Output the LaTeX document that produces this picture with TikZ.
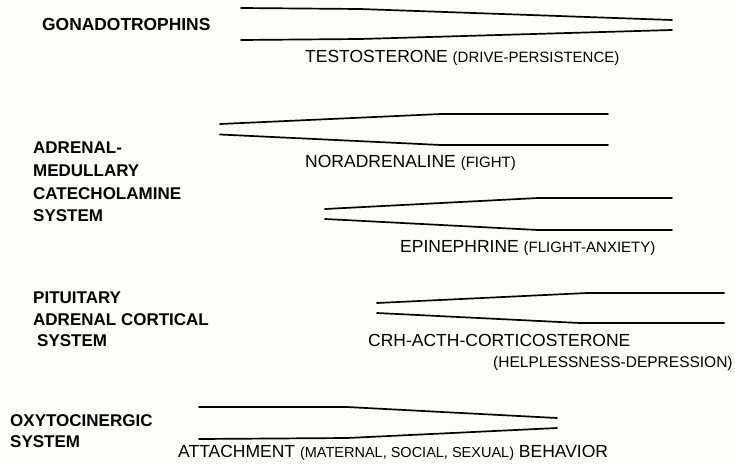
\documentclass[tikz,border=0pt]{standalone}
\usepackage{fontspec}
\setmainfont{Liberation Sans}
\definecolor{bgcol}{RGB}{253,253,249}
\tikzset{
  wedge/.style={line width=1.7pt, line join=round, line cap=round, black},
  lab/.style={anchor=base west, inner sep=0pt, font=\fontsize{17}{19}\selectfont\bfseries},
  txt/.style={anchor=base west, inner sep=0pt, font=\fontsize{17.5}{20}\selectfont},
}
\newcommand{\sm}[1]{{\fontsize{15}{17}\selectfont #1}}
\begin{document}
\begin{tikzpicture}[x=1pt,y=-1pt]
\fill[bgcol] (0,0) rectangle (735,463);
\useasboundingbox (0,0) rectangle (735,463);

% left labels
\node[lab, font=\fontsize{17.4}{19}\selectfont\bfseries] (gon) at (42,30) {GONADOTROPHINS};
\node[lab] (adr1) at (33,153) {ADRENAL-};
\node[lab] (adr2) at (33,176) {MEDULLARY};
\node[lab] (adr3) at (33,199) {CATECHOLAMINE};
\node[lab] (adr4) at (33,221) {SYSTEM};
\node[lab] (pit1) at (33,303) {PITUITARY};
\node[lab] (pit2) at (33,325) {ADRENAL CORTICAL};
\node[lab] (pit3) at (37,346) {SYSTEM};
\node[lab] (oxy1) at (10,426) {OXYTOCINERGIC};
\node[lab] (oxy2) at (10,447) {SYSTEM};

% right labels
\node[txt] (tes) at (305,62) {TESTOSTERONE \sm{(DRIVE-PERSISTENCE)}};
\node[txt] (nor) at (305,167) {NORADRENALINE \sm{(FIGHT)}};
\node[txt] (epi) at (400,252) {EPINEPHRINE \sm{(FLIGHT-ANXIETY)}};
\node[txt] (crh) at (368,346) {CRH-ACTH-CORTICOSTERONE};
\node[txt, font=\fontsize{15.5}{17}\selectfont] (hel) at (493,367) {(HELPLESSNESS-DEPRESSION)};
\node[txt] (att) at (178,457) {ATTACHMENT {\fontsize{14.5}{17}\selectfont (MATERNAL, SOCIAL, SEXUAL)} BEHAVIOR};

% wedge 1 (testosterone)
\coordinate (t1a) at (241,8);   \coordinate (t1b) at (360,9);   \coordinate (t1c) at (672,20);
\coordinate (b1a) at (241,40);  \coordinate (b1b) at (360,39);  \coordinate (b1c) at (672,30);
\draw[wedge] (t1a) -- (t1b) -- (t1c);
\draw[wedge] (b1a) -- (b1b) -- (b1c);

% wedge 2 (noradrenaline)
\coordinate (t2a) at (220,124); \coordinate (t2b) at (441,114); \coordinate (t2c) at (608,114);
\coordinate (b2a) at (220,134.5); \coordinate (b2b) at (441,145); \coordinate (b2c) at (608,145);
\draw[wedge] (t2a) -- (t2b) -- (t2c);
\draw[wedge] (b2a) -- (b2b) -- (b2c);

% wedge 3 (epinephrine)
\coordinate (t3a) at (325,209); \coordinate (t3b) at (538,198); \coordinate (t3c) at (672,198);
\coordinate (b3a) at (325,219); \coordinate (b3b) at (538,230); \coordinate (b3c) at (672,230);
\draw[wedge] (t3a) -- (t3b) -- (t3c);
\draw[wedge] (b3a) -- (b3b) -- (b3c);

% wedge 4 (CRH)
\coordinate (t4a) at (377,303); \coordinate (t4b) at (587,293); \coordinate (t4c) at (724,293);
\coordinate (b4a) at (377,313); \coordinate (b4b) at (580,323); \coordinate (b4c) at (724,323);
\draw[wedge] (t4a) -- (t4b) -- (t4c);
\draw[wedge] (b4a) -- (b4b) -- (b4c);

% wedge 5 (oxytocin)
\coordinate (t5a) at (199,407); \coordinate (t5b) at (347,407); \coordinate (t5c) at (557,418);
\coordinate (b5a) at (199,439); \coordinate (b5b) at (347,438); \coordinate (b5c) at (557,428);
\draw[wedge] (t5a) -- (t5b) -- (t5c);
\draw[wedge] (b5a) -- (b5b) -- (b5c);
\end{tikzpicture}
\end{document}
